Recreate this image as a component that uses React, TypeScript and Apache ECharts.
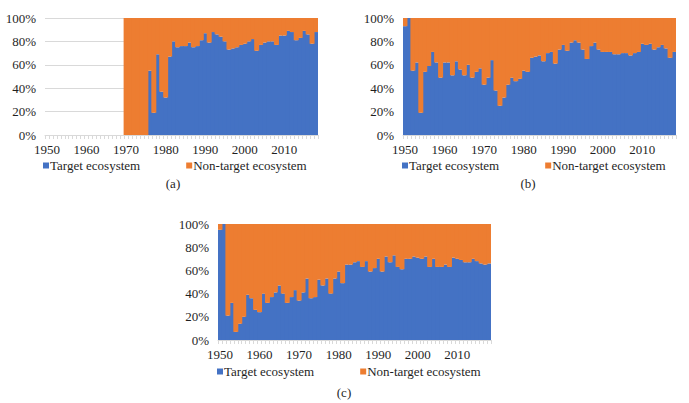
import React, { useEffect, useRef } from "react";
import * as echarts from "echarts";

const years: string[] = [];
for (let y = 1950; y <= 2018; y++) years.push(String(y));

const yTicks = [0, 20, 40, 60, 80, 100];
const seriesNames = ["Target ecosystem", "Non-target ecosystem"];
const captions = ["(a)", "(b)", "(c)"];

// Share (%) of target ecosystem, 1950-2018
const targetA: (number | null)[] = [
  null, null, null, null, null, null, null, null, null, null,
  null, null, null, null, null, null, null, null, null, null,
  0, 0, 0, 0, 0, 0, 55, 19, 69, 37,
  32, 67, 80, 75, 76, 76, 79, 75, 76, 81,
  87, 79, 88, 86, 84, 80, 73, 74, 75, 77,
  78, 80, 82, 72, 77, 79, 80, 80, 77, 85,
  85, 89, 88, 81, 83, 89, 86, 78, 88,
];

const targetB: number[] = [
  93, 100, 55, 62, 19, 54, 59, 71, 62, 49,
  62, 62, 51, 63, 56, 51, 60, 49, 54, 57,
  43, 49, 64, 38, 25, 32, 43, 49, 46, 48,
  55, 54, 66, 67, 68, 63, 70, 71, 61, 73,
  77, 72, 79, 81, 79, 73, 65, 76, 79, 73,
  71, 71, 71, 69, 69, 70, 70, 68, 70, 71,
  78, 77, 78, 73, 75, 77, 74, 66, 71,
];

const targetC: number[] = [
  95, 100, 21, 32, 7, 14, 20, 39, 36, 26,
  24, 40, 32, 37, 41, 47, 40, 32, 37, 43,
  34, 41, 53, 36, 37, 52, 47, 53, 40, 53,
  59, 49, 65, 65, 67, 68, 63, 68, 59, 62,
  70, 59, 72, 67, 73, 63, 61, 70, 70, 72,
  71, 70, 72, 63, 70, 63, 63, 65, 63, 71,
  70, 69, 67, 67, 70, 68, 66, 65, 66,
];

const complement = (arr: (number | null)[]) =>
  arr.map((v) => (v == null ? null : 100 - v));

const BLUE = "#4472C4";
const ORANGE = "#ED7D31";
const TEXT = "#1f1f1f";
const FONT = "Liberation Serif";

const grids = [
  { left: 45, top: 18, width: 273, height: 117 },
  { left: 403, top: 18, width: 273, height: 117 },
  { left: 218, top: 224, width: 273, height: 116 },
];
const legendPos = [
  { left: 43, top: 159 },
  { left: 402, top: 159 },
  { left: 217, top: 365 },
];
const captionPos = [
  { x: 173, y: 183 },
  { x: 528, y: 183 },
  { x: 344, y: 392 },
];

export default function App() {
  const ref = useRef<HTMLDivElement>(null);
  useEffect(() => {
    if (!ref.current) return;
    const chart = echarts.init(ref.current, null, { renderer: "svg" });
    const targets = [targetA, targetB, targetC];
    const series: any[] = [];
    targets.forEach((t, i) => {
      series.push({
        name: seriesNames[0],
        type: "bar",
        stack: "s" + i,
        xAxisIndex: i,
        yAxisIndex: i,
        barWidth: 5,
        data: t,
        itemStyle: { color: BLUE },
      });
      series.push({
        name: seriesNames[1],
        type: "bar",
        stack: "s" + i,
        xAxisIndex: i,
        yAxisIndex: i,
        barWidth: 5,
        data: complement(t),
        itemStyle: { color: ORANGE },
      });
    });
    chart.setOption({
      animation: false,
      textStyle: { fontFamily: FONT },
      grid: grids.map((g) => ({ ...g, containLabel: false })),
      xAxis: grids.map((_, i) => ({
        type: "category",
        gridIndex: i,
        data: years,
        boundaryGap: true,
        axisLine: { show: true, lineStyle: { color: "#d9d9d9", width: 1 } },
        axisTick: {
          show: true,
          interval: 0,
          length: 4,
          lineStyle: { color: "#d9d9d9" },
        },
        axisLabel: {
          interval: 9,
          margin: 8,
          color: TEXT,
          fontSize: 13,
          fontFamily: FONT,
        },
        splitLine: { show: false },
      })),
      yAxis: grids.map((_, i) => ({
        type: "value",
        gridIndex: i,
        min: yTicks[0],
        max: yTicks[yTicks.length - 1],
        interval: 20,
        axisLine: { show: false },
        axisTick: { show: false },
        axisLabel: {
          formatter: "{value}%",
          margin: 9,
          color: TEXT,
          fontSize: 13,
          fontFamily: FONT,
        },
        splitLine: { show: true, lineStyle: { color: "#d9d9d9", width: 1 } },
      })),
      legend: legendPos.map((p) => ({
        left: p.left,
        top: p.top,
        padding: 0,
        orient: "horizontal",
        data: seriesNames,
        icon: "rect",
        itemWidth: 6,
        itemHeight: 6,
        itemGap: 46,
        selectedMode: false,
        textStyle: {
          color: TEXT,
          fontSize: 13,
          fontFamily: FONT,
          padding: [0, 0, 0, -4],
        },
      })),
      graphic: captionPos.map((p, i) => ({
        type: "text",
        x: p.x,
        y: p.y,
        style: {
          text: captions[i],
          fill: TEXT,
          fontSize: 13,
          fontFamily: FONT,
          textAlign: "center",
          textVerticalAlign: "middle",
        },
      })),
      series,
    });
    return () => chart.dispose();
  }, []);
  return (
    <div
      ref={ref}
      style={{ position: "absolute", left: 0, top: 0, width: 689, height: 403, background: "#fff" }}
    />
  );
}
